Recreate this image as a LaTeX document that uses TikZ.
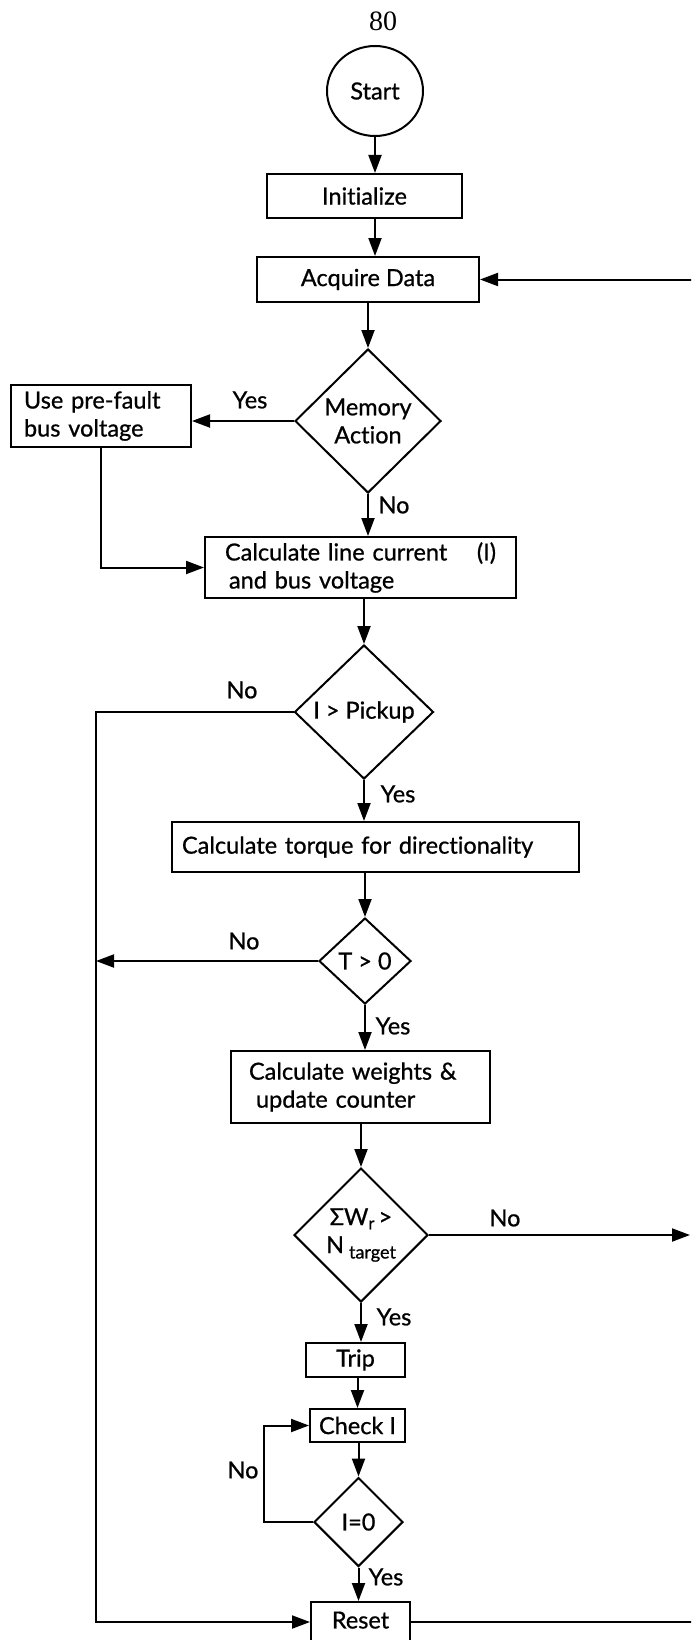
\documentclass[tikz,border=0pt]{standalone}
\usepackage{fontspec}
\setmainfont{Lato}[Ligatures=NoCommon,FakeBold=0.8]
\newfontfamily\pagefont{Liberation Serif}
\usetikzlibrary{shapes.geometric,arrows.meta}

\begin{document}
\begin{tikzpicture}[x=1pt,y=-1pt,
  every node/.style={font=\fontsize{23.5}{28}\selectfont},
  procbox/.style={draw,rectangle,line width=2pt,inner sep=0pt},
  leftbox/.style={procbox,align=left},
  decide/.style={draw,diamond,aspect=1,line width=2pt,inner sep=0pt,align=center},
  lbl/.style={inner sep=0pt},
  line/.style={line width=2pt},
  arrow/.style={line width=2pt,-{Triangle[length=18pt,width=13pt]}}]
\useasboundingbox (0,0) rectangle (691,1640);
\clip (0,0) rectangle (691,1640);

% Text Node
\node[lbl,font=\pagefont\fontsize{28}{28}\selectfont] (pgno) at (383,21) {80};

%Shape: Ellipse
\node[procbox,ellipse,minimum width=96pt,minimum height=90pt] (start) at (375,91) {Start};
%Shape: Rectangle
\node[procbox,minimum width=195pt,minimum height=44pt] (init) at (364.5,196) {Initialize};
%Shape: Rectangle
\node[procbox,minimum width=222pt,minimum height=45pt] (acq) at (368,279.5) {Acquire Data};
%Shape: Diamond
\node[decide,minimum width=146pt,minimum height=144pt] (mem) at (368,421) {Memory\\Action};
%Shape: Rectangle
\node[leftbox,text width=154pt,inner xsep=13pt,minimum height=62pt] (pre) at (101,416) {Use pre-fault\\bus voltage};
%Shape: Rectangle
\node[leftbox,text width=271pt,inner xsep=20pt,minimum height=61pt] (calc) at (360.5,567.5) {Calculate line current\hfill(I)\\\hspace*{4pt}and bus voltage};
%Shape: Diamond
\node[decide,minimum width=139pt,minimum height=134pt] (pick) at (364,712) {I > Pickup};
%Shape: Rectangle
\node[leftbox,text width=387pt,inner xsep=10pt,minimum height=50pt] (torque) at (375.5,847) {Calculate torque for directionality};
%Shape: Diamond
\node[decide,minimum width=92pt,minimum height=86pt] (tpos) at (365,961) {T > 0};
%Shape: Rectangle
\node[leftbox,text width=223pt,inner xsep=18pt,minimum height=72pt] (wts) at (360.5,1087) {Calculate weights \&\\\hspace*{7pt}update counter};
%Shape: Diamond
\node[decide,minimum width=134pt,minimum height=134pt] (sum) at (361,1235) {ΣW\raisebox{-0.35ex}{\fontsize{17}{17}\selectfont r}\hspace{4pt}>\\N\hspace{5pt}\raisebox{-0.45ex}{\fontsize{18}{18}\selectfont target}};
%Shape: Rectangle
\node[procbox,minimum width=99pt,minimum height=34pt] (trip) at (355.5,1360) {Trip};
%Shape: Rectangle
\node[procbox,minimum width=95pt,minimum height=33pt] (check) at (357.5,1425.5) {Check I};
%Shape: Diamond
\node[decide,minimum width=89pt,minimum height=89pt] (izero) at (358.5,1522) {I=0};
%Shape: Rectangle
\node[procbox,minimum width=99pt,minimum height=40pt,text depth=4pt] (reset) at (360.5,1622) {Reset};

% Text Node
\node[lbl] (yes1) at (250,400) {Yes};
\node[lbl] (no1) at (394,505) {No};
\node[lbl] (no2) at (242,690) {No};
\node[lbl] (yes2) at (398,794) {Yes};
\node[lbl] (no3) at (244,941) {No};
\node[lbl] (yes3) at (393,1026) {Yes};
\node[lbl] (no4) at (505,1218) {No};
\node[lbl] (yes4) at (394,1317) {Yes};
\node[lbl] (no5) at (243,1470) {No};
\node[lbl] (yes5) at (386,1577) {Yes};

\coordinate (lft) at (96,0);
\coordinate (rgtarr) at (690,0);
\coordinate (rgt) at (694,0);

%Straight Lines
\draw[arrow] (start.south) -- (start.south |- init.north);
\draw[arrow] (start.south |- init.south) -- (start.south |- acq.north);
\draw[arrow] (mem.north |- acq.south) -- (mem.north);
\draw[arrow] (mem.south) -- (mem.south |- calc.north);
\draw[arrow] (mem.west) -- (mem.west -| pre.east);
\draw[arrow] (pre.south) |- (calc.west);
\draw[arrow] (pick.north |- calc.south) -- (pick.north);
\draw[arrow] (pick.south) -- (pick.south |- torque.north);
\draw[arrow] (pick.west) -- (pick.west -| lft) -- (lft |- reset.west) -- (reset.west);
\draw[arrow] (tpos.north |- torque.south) -- (tpos.north);
\draw[arrow] (tpos.west) -- (tpos.west -| lft);
\draw[arrow] (tpos.south) -- (tpos.south |- wts.north);
\draw[arrow] (sum.north |- wts.south) -- (sum.north);
\draw[arrow] (sum.east) -- (sum.east -| rgtarr);
\draw[arrow] (sum.south) -- (sum.south |- trip.north);
\draw[arrow] (check.north |- trip.south) -- (check.north);
\draw[arrow] (izero.north |- check.south) -- (izero.north);
\draw[arrow] (izero.west) -- ++(-49,0) |- (check.west);
\draw[arrow] (izero.south) -- (izero.south |- reset.north);
\draw[arrow] (reset.east) -- (reset.east -| rgt) -- (rgt |- acq.east) -- (acq.east);

\end{tikzpicture}
\end{document}
